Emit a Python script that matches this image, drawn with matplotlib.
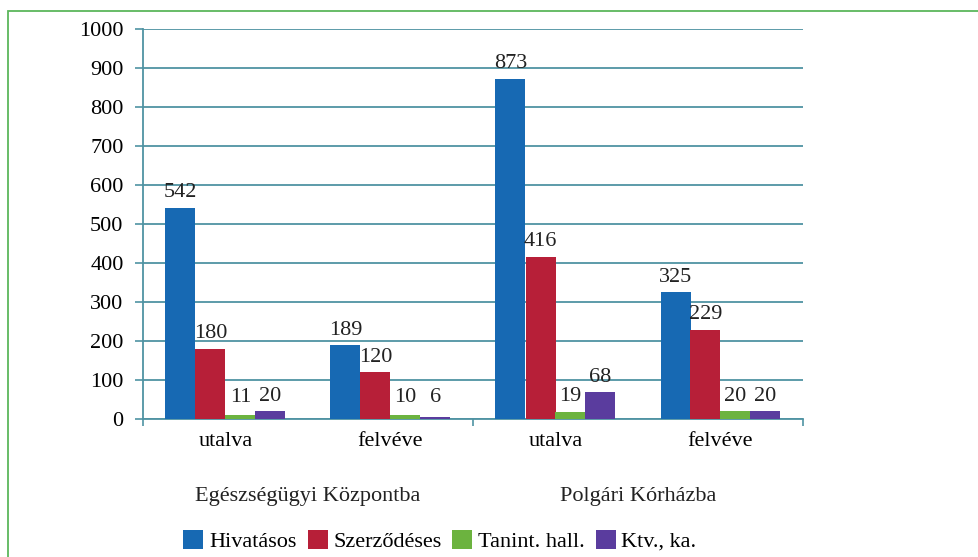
import numpy as np
import matplotlib.pyplot as plt
from matplotlib.patches import Rectangle

# adatok
kategoriak = ['utalva', 'felvéve', 'utalva', 'felvéve']
csoportok = ['Egészségügyi Központba', 'Polgári Kórházba']
sorozatok = ['Hivatásos', 'Szerződéses', 'Tanint. hall.', 'Ktv., ka.']
hivatasos = [542, 189, 873, 325]
szerzodeses = [180, 120, 416, 229]
tanint = [11, 10, 19, 20]
ktv = [20, 6, 68, 20]
szinek = ['#1769b3', '#b71f38', '#6cb33f', '#5a3c9e']
y_ticks = list(range(0, 1001, 100))

plt.rcParams['font.family'] = 'serif'
plt.rcParams['font.serif'] = ['Liberation Serif', 'DejaVu Serif']

fig = plt.figure(figsize=(9.79, 5.57), dpi=100)
ax = fig.add_axes([143/979, 138/557, 660/979, 390/557])

x = np.arange(len(kategoriak))
w = 30/165
ertekek = [hivatasos, szerzodeses, tanint, ktv]
for i, (nev, vals) in enumerate(zip(sorozatok, ertekek)):
    pos = x + (i - 1.5) * w
    bars = ax.bar(pos, vals, width=w, color=szinek[i], label=nev, zorder=3)
    for b, v in zip(bars, vals):
        # kis ertekeknel a felirat egy minimum magassagon marad
        ax.text(b.get_x() + b.get_width()/2, max(v + 14, 30), str(v), ha='center', va='bottom',
                fontsize=16, color='#222222', zorder=4)

ax.set_xlim(-0.5, 3.5)
ax.set_ylim(0, 1000)
ax.set_yticks(y_ticks)
ax.yaxis.grid(True, color='#4f93a3', lw=1.3, zorder=0)
ax.set_xticks(x)
ax.set_xticklabels(kategoriak, fontsize=16)
ax.set_xticks([-0.5, 1.5, 3.5], minor=True)
ax.tick_params(axis='x', which='major', length=0, pad=9)
ax.tick_params(axis='x', which='minor', length=5, color='#4f93a3', width=1.2)
ax.tick_params(axis='y', length=6, color='#4f93a3', width=1.2, labelsize=16, pad=8)
for s in ['top', 'right']:
    ax.spines[s].set_visible(False)
for s in ['left', 'bottom']:
    ax.spines[s].set_color('#4f93a3')
    ax.spines[s].set_linewidth(1.3)

# csoportcimkek
for j, c in enumerate(csoportok):
    ax.text(0.5 + 2*j, -0.2, c, transform=ax.get_xaxis_transform(),
            ha='center', va='center', fontsize=16, color='#222222')

fig.legend(loc='center', bbox_to_anchor=(440/979, 1 - 541/557), ncol=4, frameon=False,
           fontsize=16, handlelength=0.9, handleheight=0.9, handletextpad=0.25,
           columnspacing=0.5)

# zold keret
fig.patches.append(Rectangle((8/979, -0.1), 1.2, 1 - 11/557 + 0.1, transform=fig.transFigure,
                             fill=False, edgecolor='#5cb65c', lw=1.3))

fig.savefig('out.png', dpi=100)
